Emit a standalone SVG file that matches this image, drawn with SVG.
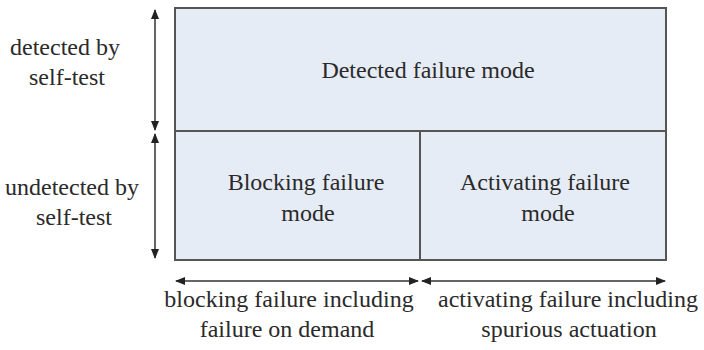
<svg xmlns="http://www.w3.org/2000/svg" width="704" height="350" viewBox="0 0 704 350">
<defs>
<marker id="ah" markerWidth="10" markerHeight="8" refX="9" refY="4" orient="auto-start-reverse" markerUnits="userSpaceOnUse">
<path d="M0,0 L10,4 L0,8 z" fill="#222"/>
</marker>
<style>
.lab{font-family:"Liberation Serif","Times New Roman",Tinos,serif;font-size:24px;fill:#2a2a2a;text-anchor:middle}
.cell{fill:#e6ecf6;stroke:#555;stroke-width:2}
.arr{stroke:#333;stroke-width:1.5;fill:none;marker-start:url(#ah);marker-end:url(#ah)}
</style>
</defs>
<rect width="704" height="350" fill="#fff"/>
<g id="detected">
<rect class="cell" x="175" y="8" width="491" height="123"/>
<text class="lab" x="428" y="78">Detected failure mode</text>
</g>
<g id="blocking">
<rect class="cell" x="175" y="131" width="245" height="129"/>
<text class="lab" x="306" y="190">Blocking failure</text>
<text class="lab" x="308" y="221">mode</text>
</g>
<g id="activating">
<rect class="cell" x="420" y="131" width="246" height="129"/>
<text class="lab" x="545" y="190">Activating failure</text>
<text class="lab" x="548" y="221">mode</text>
</g>
<g id="connectors">
<line class="arr" x1="155" y1="10" x2="155" y2="130"/>
<line class="arr" x1="155" y1="134" x2="155" y2="258"/>
<line class="arr" x1="176" y1="281" x2="418" y2="281"/>
<line class="arr" x1="422" y1="281" x2="665" y2="281"/>
</g>
<g id="labels">
<text class="lab" x="65" y="55">detected by</text>
<text class="lab" x="67" y="85">self-test</text>
<text class="lab" x="72" y="195">undetected by</text>
<text class="lab" x="74" y="225">self-test</text>
<text class="lab" x="289" y="307">blocking failure including</text>
<text class="lab" x="287" y="337">failure on demand</text>
<text class="lab" x="568" y="307">activating failure including</text>
<text class="lab" x="569" y="337">spurious actuation</text>
</g>
</svg>
